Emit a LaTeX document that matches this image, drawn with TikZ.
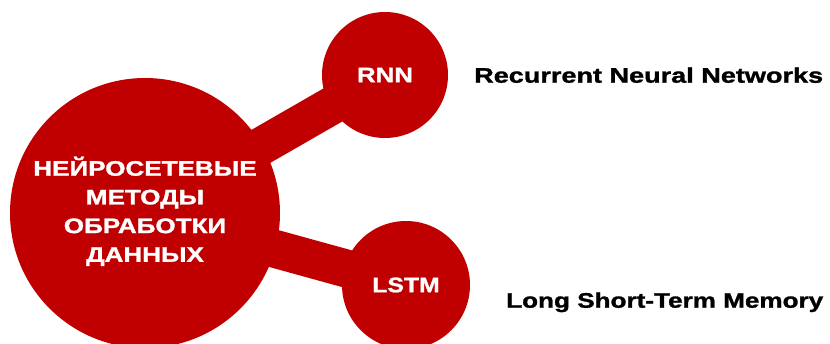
\documentclass[tikz,border=0pt]{standalone}
\usepackage{fontspec}
\setmainfont{Liberation Sans}[BoldFeatures={FakeBold=1.2}]
\usepackage{graphicx}
\usetikzlibrary{backgrounds}
\definecolor{nred}{RGB}{192,0,0}
\tikzset{
  bubble/.style={circle, fill=nred, inner sep=0pt, text=white,
    font=\bfseries\fontsize{21}{28.7}\selectfont, align=center},
  bar/.style={draw=nred, line width=38pt},
  caption/.style={anchor=base west, inner sep=0pt, text=black,
    font=\bfseries\fontsize{21}{25}\selectfont}
}
\begin{document}
\begin{tikzpicture}[x=1pt,y=-1pt]
\useasboundingbox (0,0) rectangle (830,343);
\node[bubble, minimum size=270pt] (main) at (145,213)
  {\scalebox{1.24}[1]{\begin{tabular}{@{}c@{}}НЕЙРОСЕТЕВЫЕ\\МЕТОДЫ\\ОБРАБОТКИ\\ДАННЫХ\end{tabular}}};
\node[bubble, minimum size=126pt] (rnn) at (385,75) {\scalebox{1.23}[1]{RNN}};
\node[bubble, minimum size=128pt] (lstm) at (406,285) {\scalebox{1.18}[1]{LSTM}};
\begin{scope}[on background layer]
  \draw[bar] (main.center) -- (rnn.center);
  \draw[bar] (main.center) -- (lstm.center);
\end{scope}
\node[caption] (rnnlab) at (474,82.7) {\resizebox{349pt}{\height}{Recurrent Neural Networks}};
\node[caption] (lstmlab) at (506,307.7) {\resizebox{317pt}{\height}{Long Short-Term Memory}};
\end{tikzpicture}
\end{document}
